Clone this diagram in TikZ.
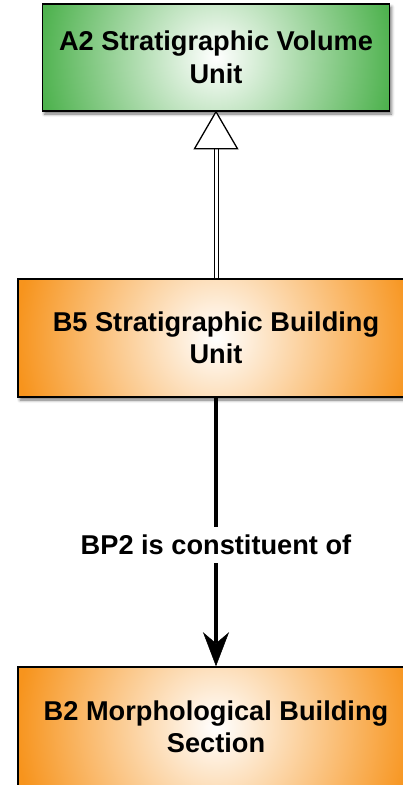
\documentclass[tikz,border=0pt]{standalone}
\usepackage{fontspec}
\setmainfont{Liberation Sans}
\usetikzlibrary{arrows.meta,shadows.blur}

\definecolor{boxgreen}{RGB}{78,178,78}
\definecolor{boxorange}{RGB}{247,148,29}

% white core fading out to the class colour (full colour at the circle's rim)
\pgfdeclareradialshading{greenglow}{\pgfpoint{0bp}{0bp}}{color(0bp)=(white); color(25bp)=(boxgreen); color(50bp)=(boxgreen)}
\pgfdeclareradialshading{orangeglow}{\pgfpoint{0bp}{0bp}}{color(0bp)=(white); color(25bp)=(boxorange); color(50bp)=(boxorange)}

\tikzset{
  bigfont/.style={font=\bfseries\fontsize{27.2}{32.5}\selectfont},
  classbox/.style n args={3}{
    draw=black, line width=1.5pt, fill=#1, inner sep=0pt, align=center, bigfont,
    blur shadow={shadow xshift=2pt, shadow yshift=-3pt, shadow blur radius=3pt, shadow opacity=55},
    path picture={\shade[shading=#2] (path picture bounding box.center) circle (#3);}
  },
  genshaft/.style={draw=black, line width=1pt, double=white, double distance=3pt},
  genhead/.style={draw=black, line width=1.3pt, fill=white, line join=miter},
  relarrow/.style={line width=4pt, -{Stealth[length=34pt, width=26pt, inset=11pt, line width=0.5pt]}},
  rellabel/.style={fill=white, inner xsep=4pt, inner ysep=8pt, bigfont}
}

\begin{document}
\begin{tikzpicture}[x=1pt, y=-1pt]
  \useasboundingbox (0,0) rectangle (402,785);

  % classes
  \node[classbox={boxgreen}{greenglow}{178pt}, minimum width=347pt, minimum height=107pt]
    (a2) at (216,57.5) {A2 Stratigraphic Volume\\Unit};
  \node[classbox={boxorange}{orangeglow}{200pt}, minimum width=396pt, minimum height=118pt]
    (b5) at (216,338) {B5 Stratigraphic Building\\Unit};
  \node[classbox={boxorange}{orangeglow}{200pt}, minimum width=396pt, minimum height=120pt]
    (b2) at (216,727) {B2 Morphological Building\\Section};

  % generalisation B5 -> A2 with hollow triangle head
  \path (a2.south) ++(0,37) coordinate (gbase);
  \draw[genshaft] (b5.north) -- (gbase);
  \draw[genhead] (a2.south) -- ([xshift=-21.5pt]gbase) -- ([xshift=21.5pt]gbase) -- cycle;

  % property B5 -> B2
  \draw[relarrow] (b5.south) -- (b2.north)
    node[rellabel, pos=0.548] (bp2) {BP2 is constituent of};
\end{tikzpicture}
\end{document}
